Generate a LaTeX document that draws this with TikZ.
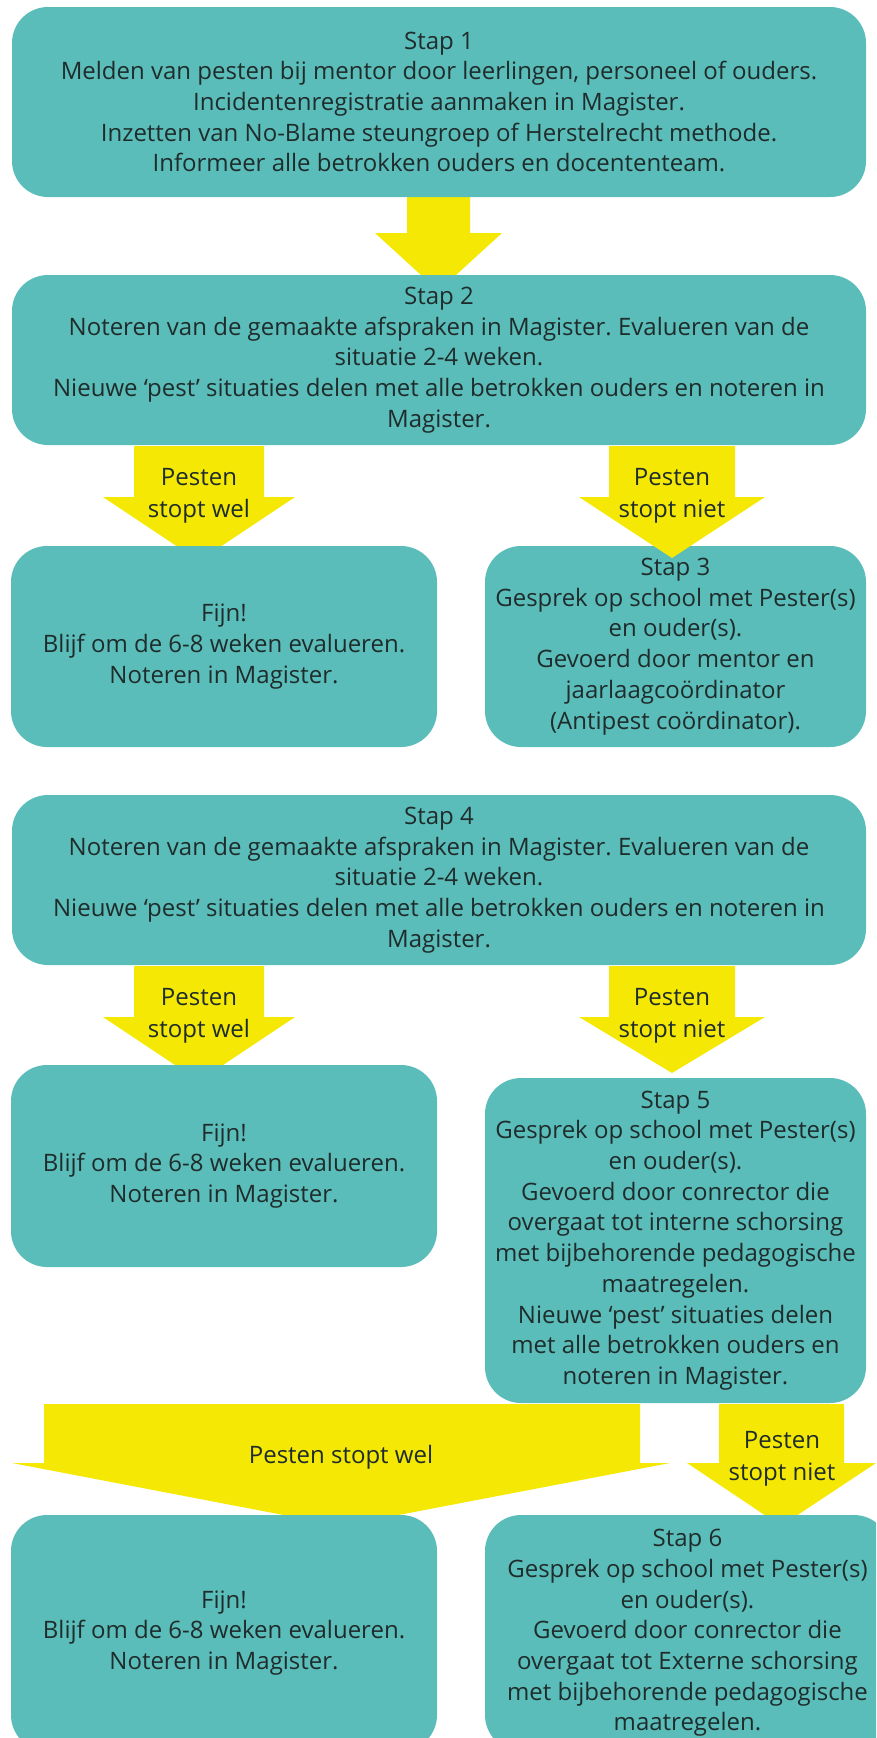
\documentclass[tikz,border=0pt]{standalone}
\usepackage{fontspec}
\setmainfont{Open Sans}
\frenchspacing
\definecolor{stapgroen}{HTML}{5BBDB9}
\definecolor{pijlgeel}{HTML}{F4E804}
\definecolor{tekst}{HTML}{1F2C2C}
\tikzset{
  stap/.style={fill=stapgroen, rounded corners=36pt, align=center, text=tekst,
    font=\fontsize{24}{30.7}\selectfont, inner sep=0pt},
  pijl/.style={fill=pijlgeel},
  pijltekst/.style={align=center, text=tekst, font=\fontsize{24}{32}\selectfont, inner sep=0pt}
}
\begin{document}
\begin{tikzpicture}[x=1pt,y=-1pt]
  \useasboundingbox (0,0) rectangle (876,1738);
  \clip (0,0) rectangle (876,1738);
  % pijlen
  \fill[pijl] (407,197) -- (470,197) -- (470,233) -- (502,233) -- (438.5,291) -- (375,233) -- (407,233) -- cycle;
  \fill[pijl] (134,446) -- (264,446) -- (264,497) -- (295,497) -- (199,561) -- (103,497) -- (134,497) -- cycle;
  \fill[pijl] (134,966) -- (264,966) -- (264,1017) -- (295,1017) -- (199,1081) -- (103,1017) -- (134,1017) -- cycle;
  \fill[pijl] (609,966) -- (735,966) -- (735,1017) -- (765,1017) -- (672,1073) -- (579,1017) -- (609,1017) -- cycle;
  \fill[pijl] (44,1404) -- (640,1404) -- (640,1463) -- (670,1463) -- (341,1526) -- (12,1463) -- (44,1463) -- cycle;
  \fill[pijl] (719,1404) -- (844,1404) -- (844,1463) -- (876,1463) -- (781,1526) -- (687,1463) -- (719,1463) -- cycle;
  % stappen
  \node[stap, minimum width=854, minimum height=190] (s1) at (439,102)
    {Stap 1\\Melden van pesten bij mentor door leerlingen, personeel of ouders.\\Incidentenregistratie aanmaken in Magister.\\Inzetten van No-Blame steungroep of Herstelrecht methode.\\Informeer alle betrokken ouders en docententeam.};
  \node[stap, minimum width=854, minimum height=170] (s2) at (439,360)
    {Stap 2\\Noteren van de gemaakte afspraken in Magister. Evalueren van de\\situatie 2-4 weken.\\Nieuwe `pest' situaties delen met alle betrokken ouders en noteren in\\Magister.};
  \node[stap, minimum width=426, minimum height=201] (f1) at (224,646.5)
    {Fijn!\\Blijf om de 6-8 weken evalueren.\\Noteren in Magister.};
  \node[stap, minimum width=381, minimum height=201] (s3) at (675.5,646.5)
    {Stap 3\\Gesprek op school met Pester(s)\\en ouder(s).\\Gevoerd door mentor en\\jaarlaagcoördinator\\(Antipest coördinator).};
  \node[stap, minimum width=854, minimum height=170] (s4) at (439,880)
    {Stap 4\\Noteren van de gemaakte afspraken in Magister. Evalueren van de\\situatie 2-4 weken.\\Nieuwe `pest' situaties delen met alle betrokken ouders en noteren in\\Magister.};
  \node[stap, minimum width=426, minimum height=202] (f2) at (224,1166)
    {Fijn!\\Blijf om de 6-8 weken evalueren.\\Noteren in Magister.};
  \node[stap, minimum width=381, minimum height=325] (s5) at (675.5,1240.5)
    {Stap 5\\Gesprek op school met Pester(s)\\en ouder(s).\\Gevoerd door conrector die\\overgaat tot interne schorsing\\met bijbehorende pedagogische\\maatregelen.\\Nieuwe `pest' situaties delen\\met alle betrokken ouders en\\noteren in Magister.};
  \node[stap, minimum width=426, minimum height=236] (f3) at (224,1633)
    {Fijn!\\Blijf om de 6-8 weken evalueren.\\Noteren in Magister.};
  \node[stap, minimum width=405, minimum height=236] (s6) at (687.5,1633)
    {Stap 6\\Gesprek op school met Pester(s)\\en ouder(s).\\Gevoerd door conrector die\\overgaat tot Externe schorsing\\met bijbehorende pedagogische\\maatregelen.};
  % deze pijl ligt over stap 3
  \fill[pijl] (609,446) -- (735,446) -- (735,497) -- (765,497) -- (672,558) -- (579,497) -- (609,497) -- cycle;
  % teksten in de pijlen
  \node[pijltekst] (p1) at (199,496) {Pesten\\stopt wel};
  \node[pijltekst] (p2) at (672,496) {Pesten\\stopt niet};
  \node[pijltekst] (p3) at (199,1016) {Pesten\\stopt wel};
  \node[pijltekst] (p4) at (672,1016) {Pesten\\stopt niet};
  \node[pijltekst] (p5) at (341,1457) {Pesten stopt wel};
  \node[pijltekst] (p6) at (782,1459) {Pesten\\stopt niet};
\end{tikzpicture}
\end{document}
